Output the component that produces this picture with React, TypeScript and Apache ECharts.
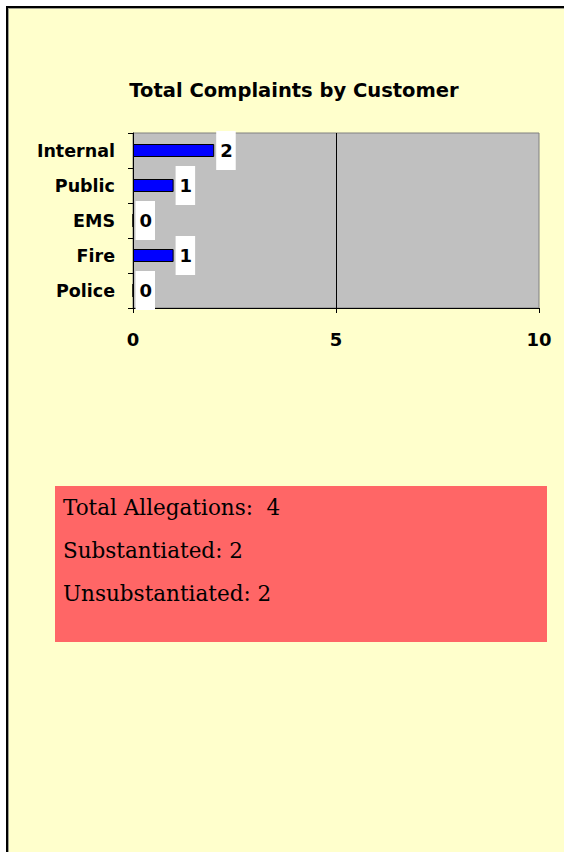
import React, { useEffect, useRef } from "react";
import * as echarts from "echarts";

const categories = ["Police", "Fire", "EMS", "Public", "Internal"];
const complaints = [0, 1, 0, 1, 2];
const xMin = 0;
const xMax = 10;
const xInterval = 5;
const chartTitle = "Total Complaints by Customer";
const summaryLines = ["Total Allegations:  4", "Substantiated: 2", "Unsubstantiated: 2"];

const SANS = '"DejaVu Sans", Arial, sans-serif';
const SERIF = '"DejaVu Serif", serif';

export default function App() {
  const ref = useRef<HTMLDivElement>(null);
  useEffect(() => {
    const chart = echarts.init(ref.current!, null, { renderer: "svg" });
    chart.setOption({
      animation: false,
      backgroundColor: "#FFFFCC",
      grid: {
        left: 133,
        right: 25,
        top: 133,
        height: 175,
        show: true,
        backgroundColor: "#C0C0C0",
        borderColor: "#808080",
        borderWidth: 1,
      },
      xAxis: {
        type: "value",
        min: xMin,
        max: xMax,
        interval: xInterval,
        axisLine: { show: true, lineStyle: { color: "#000", width: 1 } },
        axisTick: { show: true, length: 5, lineStyle: { color: "#000" } },
        axisLabel: {
          color: "#000",
          fontFamily: SANS,
          fontWeight: "bold",
          fontSize: 18,
          margin: 22,
        },
        splitLine: {
          show: true,
          showMinLine: false,
          showMaxLine: false,
          lineStyle: { color: "#000", width: 1 },
        },
      },
      yAxis: {
        type: "category",
        data: categories,
        axisLine: { show: true, lineStyle: { color: "#000", width: 1 } },
        axisTick: { show: true, length: 5, lineStyle: { color: "#000" } },
        axisLabel: {
          color: "#000",
          fontFamily: SANS,
          fontWeight: "bold",
          fontSize: 17.5,
          margin: 18,
        },
        splitLine: { show: false },
      },
      series: [
        {
          type: "bar",
          data: complaints,
          barWidth: 13,
          itemStyle: { color: "#0000FF", borderColor: "#000", borderWidth: 1 },
          label: {
            show: true,
            position: "right",
            distance: 2,
            color: "#000",
            fontFamily: SANS,
            fontWeight: "bold",
            fontSize: 18,
            backgroundColor: "#FFFFFF",
            padding: [11, 3, 10, 4],
          },
        },
      ],
      graphic: [
        { type: "rect", shape: { x: 0, y: 0, width: 564, height: 6 }, style: { fill: "#FFFFFF" }, silent: true },
        { type: "rect", shape: { x: 0, y: 0, width: 6, height: 852 }, style: { fill: "#FFFFFF" }, silent: true },
        { type: "rect", shape: { x: 6, y: 6, width: 558, height: 2 }, style: { fill: "#000000" }, silent: true },
        { type: "rect", shape: { x: 6, y: 6, width: 2, height: 846 }, style: { fill: "#000000" }, silent: true },
        { type: "rect", shape: { x: 8, y: 8, width: 556, height: 1 }, style: { fill: "#A0A090" }, silent: true },
        { type: "rect", shape: { x: 8, y: 8, width: 1, height: 844 }, style: { fill: "#A0A090" }, silent: true },
        {
          type: "text",
          x: 294,
          y: 90,
          style: {
            text: chartTitle,
            fill: "#000",
            font: `bold 19.5px ${SANS}`,
            textAlign: "center",
            textVerticalAlign: "middle",
          },
        },
        { type: "rect", shape: { x: 55, y: 486, width: 492, height: 156 }, style: { fill: "#FF6666" }, silent: true },
        ...summaryLines.map((t, i) => ({
          type: "text",
          x: 63,
          y: 507 + i * 43,
          style: {
            text: t,
            fill: "#000",
            font: `21.5px ${SERIF}`,
            textAlign: "left",
            textVerticalAlign: "middle",
          },
        })),
      ],
    });
    return () => chart.dispose();
  }, []);
  return (
    <div
      ref={ref}
      style={{ position: "fixed", left: 0, top: 0, width: 564, height: 852 }}
    />
  );
}
